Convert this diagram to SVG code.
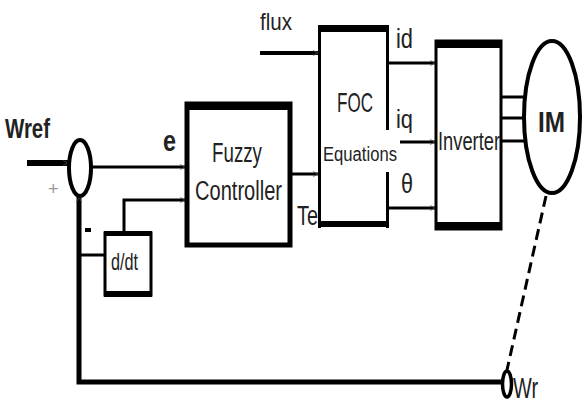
<svg xmlns="http://www.w3.org/2000/svg" width="584" height="410" viewBox="0 0 584 410">
<style>
text{font-family:"Liberation Sans",Arial,sans-serif;fill:#222}
.w{stroke:#000;fill:none;stroke-linecap:butt}
.box{fill:#fff;stroke:#000}
.band{fill:#000}
</style>
<defs>
<marker id="ah" viewBox="0 0 10 10" refX="9" refY="5" markerWidth="6" markerHeight="6" markerUnits="userSpaceOnUse" orient="auto">
<path d="M1,1 L9,5 L1,9" fill="none" stroke="#444" stroke-width="1.5"/>
</marker>
</defs>
<rect width="584" height="410" fill="#fff"/>
<g id="connectors">
<line class="w" x1="27" y1="163" x2="68" y2="163" stroke-width="6" marker-end="url(#ah)"/>
<line class="w" x1="91" y1="167" x2="185" y2="167" stroke-width="3" marker-end="url(#ah)"/>
<polyline class="w" points="124,233 124,200 185,200" stroke-width="3" marker-end="url(#ah)"/>
<line class="w" x1="79" y1="255" x2="104" y2="255" stroke-width="3"/>
<polyline class="w" points="502,382 79,382 79,197" stroke-width="5" marker-end="url(#ah)"/>
<line class="w" x1="260" y1="53" x2="318" y2="53" stroke-width="4" marker-end="url(#ah)"/>
<line class="w" x1="292" y1="174" x2="318" y2="174" stroke-width="3" marker-end="url(#ah)"/>
<line class="w" x1="388" y1="63" x2="435" y2="63" stroke-width="3" marker-end="url(#ah)"/>
<line class="w" x1="400" y1="142" x2="435" y2="142" stroke-width="3" marker-end="url(#ah)"/>
<line class="w" x1="388" y1="208" x2="435" y2="208" stroke-width="3" marker-end="url(#ah)"/>
<line class="w" x1="502" y1="97" x2="525" y2="97" stroke-width="3"/>
<line class="w" x1="502" y1="118" x2="525" y2="118" stroke-width="3"/>
<line class="w" x1="502" y1="141" x2="525" y2="141" stroke-width="3"/>
<line class="w" x1="546" y1="196" x2="507" y2="370" stroke-width="3" stroke-dasharray="11,6"/>
</g>
<g id="wref-label"><text x="5" y="138" font-size="28" font-weight="bold" textLength="45" lengthAdjust="spacingAndGlyphs">Wref</text></g>
<g id="sum">
<ellipse cx="80" cy="168" rx="11" ry="28" fill="#fff" stroke="#000" stroke-width="4"/>
<text x="48" y="195" font-size="18" style="fill:#999">+</text>
<rect x="85" y="228" width="6" height="4" fill="#000"/>
</g>
<g id="e-label"><text x="163" y="151" font-size="30" font-weight="bold" textLength="13" lengthAdjust="spacingAndGlyphs">e</text></g>
<g id="ddt">
<rect class="box" x="105" y="233" width="46" height="62" stroke-width="3"/>
<rect class="band" x="104" y="231" width="48" height="5"/>
<rect class="band" x="104" y="291" width="48" height="6"/>
<text x="111" y="270" font-size="24" textLength="27" lengthAdjust="spacingAndGlyphs">d/dt</text>
</g>
<g id="fuzzy">
<rect class="box" x="187" y="104" width="103" height="141" stroke-width="5"/>
<rect class="band" x="185" y="102" width="107" height="8"/>
<text x="212" y="162" font-size="27" textLength="50" lengthAdjust="spacingAndGlyphs">Fuzzy</text>
<text x="195" y="200" font-size="27" textLength="87" lengthAdjust="spacingAndGlyphs">Controller</text>
</g>
<g id="te-label"><text x="297" y="225" font-size="28" textLength="21" lengthAdjust="spacingAndGlyphs">Te</text></g>
<g id="flux-label"><text x="260" y="30" font-size="24" textLength="32" lengthAdjust="spacingAndGlyphs">flux</text></g>
<g id="foc">
<rect x="319" y="26" width="68" height="200" fill="#fff"/>
<line class="w" x1="319.5" y1="25" x2="319.5" y2="228" stroke-width="3"/>
<line class="w" x1="387.5" y1="25" x2="387.5" y2="130" stroke-width="3"/>
<line class="w" x1="387.5" y1="172" x2="387.5" y2="228" stroke-width="3"/>
<rect class="band" x="318" y="25" width="71" height="7"/>
<rect class="band" x="318" y="221" width="71" height="6"/>
<text x="337" y="112" font-size="28" textLength="36" lengthAdjust="spacingAndGlyphs">FOC</text>
<text x="323" y="161" font-size="20" textLength="74" lengthAdjust="spacingAndGlyphs">Equations</text>
</g>
<g id="id-label"><text x="396" y="48" font-size="28" textLength="17" lengthAdjust="spacingAndGlyphs">id</text></g>
<g id="iq-label"><text x="396" y="128" font-size="26" textLength="17" lengthAdjust="spacingAndGlyphs">iq</text></g>
<g id="theta-label"><text x="401" y="193" font-size="28" textLength="12" lengthAdjust="spacingAndGlyphs">θ</text></g>
<g id="inverter">
<rect class="box" x="436" y="41" width="65" height="188" stroke-width="3"/>
<rect class="band" x="435" y="40" width="67" height="8"/>
<rect class="band" x="435" y="222" width="67" height="8"/>
<text x="438" y="150" font-size="25" textLength="62" lengthAdjust="spacingAndGlyphs">Inverter</text>
</g>
<g id="im">
<ellipse cx="552" cy="117" rx="28" ry="76" fill="#fff" stroke="#000" stroke-width="4"/>
<text x="538" y="132" font-size="30" font-weight="bold" textLength="27" lengthAdjust="spacingAndGlyphs">IM</text>
</g>
<g id="wr">
<ellipse cx="507" cy="384" rx="4.5" ry="13" fill="#fff" stroke="#000" stroke-width="3.5"/>
<text x="513" y="398" font-size="30" textLength="25" lengthAdjust="spacingAndGlyphs">Wr</text>
</g>
</svg>
